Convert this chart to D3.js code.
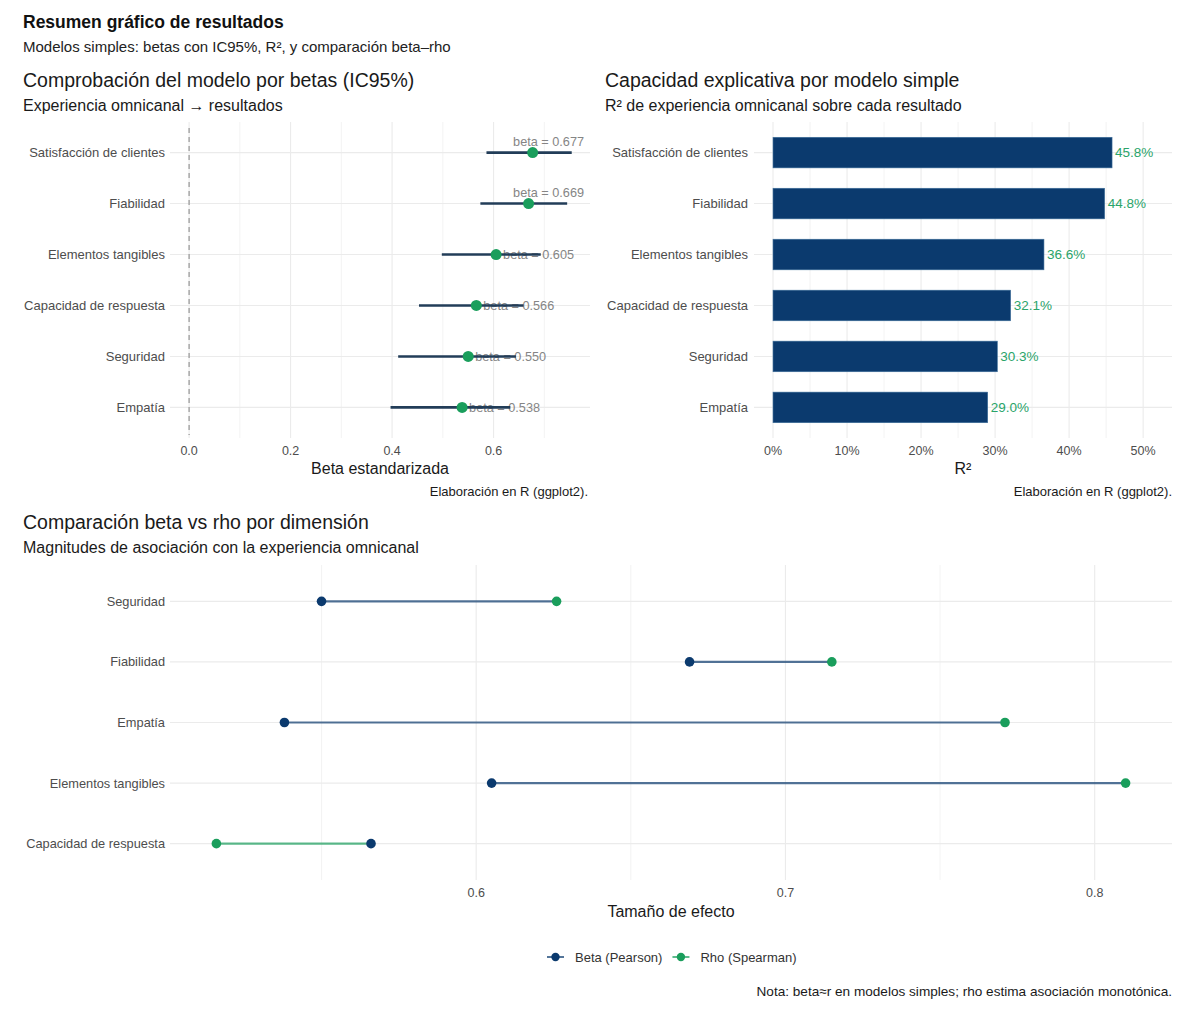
<!DOCTYPE html>
<html>
<head>
<meta charset="utf-8">
<script src="https://cdn.jsdelivr.net/npm/d3@7"></script>
<style>
  body { margin: 0; background: #fff; }
  svg { font-family: "Liberation Sans", Arial, sans-serif; }
</style>
</head>
<body>
<div id="chart"></div>
<script>
// datos
const dimsBeta = ['Satisfacción de clientes', 'Fiabilidad', 'Elementos tangibles',
  'Capacidad de respuesta', 'Seguridad', 'Empatía'];
const betas = [0.677, 0.669, 0.605, 0.566, 0.550, 0.538];
const ciLow = [0.586, 0.574, 0.498, 0.453, 0.412, 0.397];
const ciHigh = [0.754, 0.745, 0.693, 0.659, 0.644, 0.633];
const r2 = [0.458, 0.448, 0.366, 0.321, 0.303, 0.290];

const dimsComp = ['Seguridad', 'Fiabilidad', 'Empatía', 'Elementos tangibles', 'Capacidad de respuesta'];
const betaComp = [0.550, 0.669, 0.538, 0.605, 0.566];
const rhoComp = [0.626, 0.715, 0.771, 0.810, 0.516];

const betaTicks = [0, 0.2, 0.4, 0.6];
const r2Ticks = [0, 0.1, 0.2, 0.3, 0.4, 0.5];
const compTicks = [0.6, 0.7, 0.8];

const navy = '#0b3a6e';
const green = '#1a9e5c';
const grid = '#ebebeb';
const tickCol = '#4d4d4d';

const W = 1184, H = 1010;
const svg = d3.select('#chart').append('svg')
    .attr('width', W)
    .attr('height', H);

// títulos generales
svg.append('text').attr('x', 23).attr('y', 28)
    .attr('font-size', 17.5).attr('font-weight', 'bold').attr('fill', '#111')
    .text('Resumen gráfico de resultados');
svg.append('text').attr('x', 23).attr('y', 52)
    .attr('font-size', 15).attr('fill', '#222')
    .text('Modelos simples: betas con IC95%, R², y comparación beta–rho');

function titles(x, y, title, sub) {
  svg.append('text').attr('x', x).attr('y', y)
      .attr('font-size', 19.5).attr('fill', '#1a1a1a').text(title);
  svg.append('text').attr('x', x).attr('y', y + 24)
      .attr('font-size', 16).attr('fill', '#1a1a1a').text(sub);
}

function vgrid(g, scale, values, y0, y1, width) {
  g.selectAll(null).data(values).enter().append('line')
      .attr('x1', (d) => scale(d)).attr('x2', (d) => scale(d))
      .attr('y1', y0).attr('y2', y1)
      .attr('stroke', grid).attr('stroke-width', width);
}

function hgrid(g, yScale, cats, x0, x1) {
  g.selectAll(null).data(cats).enter().append('line')
      .attr('x1', x0).attr('x2', x1)
      .attr('y1', (d) => yScale(d)).attr('y2', (d) => yScale(d))
      .attr('stroke', grid).attr('stroke-width', 1.1);
}

function catLabels(g, yScale, cats, x, size) {
  g.selectAll(null).data(cats).enter().append('text')
      .attr('x', x).attr('y', (d) => yScale(d))
      .attr('dy', '0.35em').attr('text-anchor', 'end')
      .attr('font-size', size).attr('fill', tickCol)
      .text((d) => d);
}

function tickLabels(g, scale, values, y, fmt) {
  g.selectAll(null).data(values).enter().append('text')
      .attr('x', (d) => scale(d)).attr('y', y)
      .attr('text-anchor', 'middle')
      .attr('font-size', 12.5).attr('fill', tickCol)
      .text(fmt);
}

function caption(x, y, txt, size) {
  svg.append('text').attr('x', x).attr('y', y)
      .attr('text-anchor', 'end').attr('font-size', size).attr('fill', '#1a1a1a')
      .text(txt);
}

// ---------- panel 1: betas con IC95% ----------
const p1 = svg.append('g');
const x1 = d3.scaleLinear().domain([-0.0376, 0.79]).range([170, 590]);
const y1 = d3.scalePoint().domain(dimsBeta).range([122, 438]).padding(0.6);

titles(23, 87, 'Comprobación del modelo por betas (IC95%)', 'Experiencia omnicanal → resultados');
vgrid(p1, x1, [0.1, 0.3, 0.5, 0.7], 122, 438, 0.6);
vgrid(p1, x1, betaTicks, 122, 438, 1.1);
hgrid(p1, y1, dimsBeta, 170, 590);

p1.append('line')
    .attr('x1', x1(0)).attr('x2', x1(0)).attr('y1', 128).attr('y2', 435)
    .attr('stroke', '#8c8c8c').attr('stroke-width', 1.1)
    .attr('stroke-dasharray', '5,4');

const rows1 = dimsBeta.map((d, i) => ({dim: d, b: betas[i], lo: ciLow[i], hi: ciHigh[i]}));

// etiquetas beta
const lab = p1.selectAll('text.blab').data(rows1).enter().append('text')
    .attr('class', 'blab')
    .attr('font-size', 12.7).attr('fill', '#858585')
    .text((d) => 'beta = ' + d.b.toFixed(3));
lab.each(function(d) {
  const w = this.getComputedTextLength();
  const sx = x1(d.b) + 7;
  if (sx + w > x1.range()[1]) {
    d3.select(this).attr('x', x1.range()[1] - 6).attr('y', y1(d.dim) - 7)
        .attr('text-anchor', 'end');
  } else {
    d3.select(this).attr('x', sx).attr('y', y1(d.dim)).attr('dy', '0.35em');
  }
});

p1.selectAll(null).data(rows1).enter().append('line')
    .attr('x1', (d) => x1(d.lo)).attr('x2', (d) => x1(d.hi))
    .attr('y1', (d) => y1(d.dim)).attr('y2', (d) => y1(d.dim))
    .attr('stroke', '#223d58').attr('stroke-width', 2.6);

p1.selectAll(null).data(rows1).enter().append('circle')
    .attr('cx', (d) => x1(d.b)).attr('cy', (d) => y1(d.dim))
    .attr('r', 5.5).attr('fill', green);

catLabels(p1, y1, dimsBeta, 165, 13);
tickLabels(p1, x1, betaTicks, 455, d3.format('.1f'));
svg.append('text').attr('x', 380).attr('y', 474).attr('text-anchor', 'middle')
    .attr('font-size', 16).attr('fill', '#1a1a1a').text('Beta estandarizada');
caption(588, 496, 'Elaboración en R (ggplot2).', 13);

// ---------- panel 2: R² ----------
const p2 = svg.append('g');
const x2 = d3.scaleLinear().domain([-0.0257, 0.539]).range([754, 1172]);
const y2 = d3.scalePoint().domain(dimsBeta).range([122, 438]).padding(0.6);
const bh = y2.step() * 0.6;

titles(605, 87, 'Capacidad explicativa por modelo simple', 'R² de experiencia omnicanal sobre cada resultado');
vgrid(p2, x2, [0.05, 0.15, 0.25, 0.35, 0.45], 122, 438, 0.6);
vgrid(p2, x2, r2Ticks, 122, 438, 1.1);
hgrid(p2, y2, dimsBeta, 754, 1172);

const rows2 = dimsBeta.map((d, i) => ({dim: d, v: r2[i]}));
p2.selectAll(null).data(rows2).enter().append('rect')
    .attr('x', x2(0)).attr('y', (d) => y2(d.dim) - bh / 2)
    .attr('width', (d) => x2(d.v) - x2(0)).attr('height', bh)
    .attr('fill', navy).attr('stroke', '#3d6e9a').attr('stroke-width', 0.6);

p2.selectAll(null).data(rows2).enter().append('text')
    .attr('x', (d) => x2(d.v) + 3).attr('y', (d) => y2(d.dim))
    .attr('dy', '0.35em').attr('font-size', 13.5).attr('fill', '#2aa46a')
    .text((d) => d3.format('.1%')(d.v));

catLabels(p2, y2, dimsBeta, 748, 13);
tickLabels(p2, x2, r2Ticks, 455, d3.format('.0%'));
svg.append('text').attr('x', 963).attr('y', 474).attr('text-anchor', 'middle')
    .attr('font-size', 16).attr('fill', '#1a1a1a').text('R²');
caption(1172, 496, 'Elaboración en R (ggplot2).', 13);

// ---------- panel 3: beta vs rho ----------
const p3 = svg.append('g');
const x3 = d3.scaleLinear().domain([0.501, 0.825]).range([170, 1172]);
const y3 = d3.scalePoint().domain(dimsComp).range([565, 880]).padding(0.6);

titles(23, 529, 'Comparación beta vs rho por dimensión', 'Magnitudes de asociación con la experiencia omnicanal');
vgrid(p3, x3, [0.55, 0.65, 0.75], 565, 880, 0.6);
vgrid(p3, x3, compTicks, 565, 880, 1.1);
hgrid(p3, y3, dimsComp, 170, 1172);

const rows3 = dimsComp.map((d, i) => ({dim: d, b: betaComp[i], r: rhoComp[i]}));
// el tramo toma el color del punto de la izquierda
p3.selectAll(null).data(rows3).enter().append('line')
    .attr('x1', (d) => x3(Math.min(d.b, d.r))).attr('x2', (d) => x3(Math.max(d.b, d.r)))
    .attr('y1', (d) => y3(d.dim)).attr('y2', (d) => y3(d.dim))
    .attr('stroke', (d) => d.b <= d.r ? navy : green)
    .attr('stroke-opacity', 0.7).attr('stroke-width', 2.2);

p3.selectAll(null).data(rows3).enter().append('circle')
    .attr('cx', (d) => x3(d.b)).attr('cy', (d) => y3(d.dim))
    .attr('r', 4.8).attr('fill', navy);
p3.selectAll(null).data(rows3).enter().append('circle')
    .attr('cx', (d) => x3(d.r)).attr('cy', (d) => y3(d.dim))
    .attr('r', 4.8).attr('fill', green);

catLabels(p3, y3, dimsComp, 165, 12.8);
tickLabels(p3, x3, compTicks, 897, d3.format('.1f'));
svg.append('text').attr('x', 671).attr('y', 917).attr('text-anchor', 'middle')
    .attr('font-size', 16).attr('fill', '#1a1a1a').text('Tamaño de efecto');

// leyenda
const legendItems = [{name: 'Beta (Pearson)', col: navy}, {name: 'Rho (Spearman)', col: green}];
const leg = svg.append('g').attr('transform', 'translate(547,957)');
let lx = 0;
legendItems.forEach((it) => {
  const g = leg.append('g').attr('transform', 'translate(' + lx + ',0)');
  g.append('line').attr('x1', 0).attr('x2', 17).attr('y1', 0).attr('y2', 0)
      .attr('stroke', it.col).attr('stroke-opacity', 0.7).attr('stroke-width', 2);
  g.append('circle').attr('cx', 8.5).attr('cy', 0).attr('r', 4.2).attr('fill', it.col);
  const t = g.append('text').attr('x', 28).attr('y', 0).attr('dy', '0.35em')
      .attr('font-size', 13).attr('fill', '#333').text(it.name);
  lx += 28 + t.node().getComputedTextLength() + 10;
});

caption(1172, 996, 'Nota: beta≈r en modelos simples; rho estima asociación monotónica.', 13.6);
</script>
</body>
</html>
